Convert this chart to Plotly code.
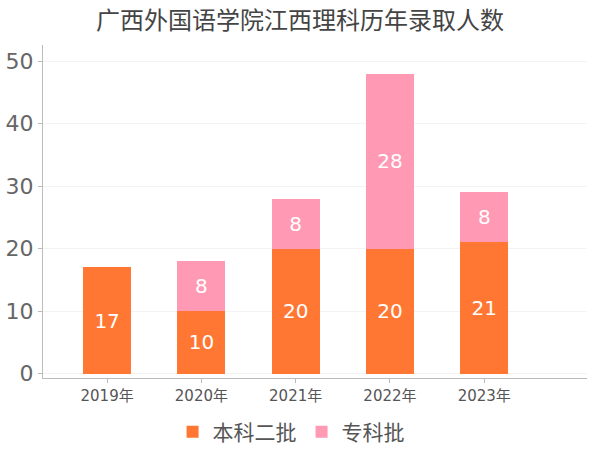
import plotly.graph_objs as go

years = ['2019年', '2020年', '2021年', '2022年', '2023年']
benke = [17, 10, 20, 20, 21]
zhuanke = [None, 8, 8, 28, 8]

font_family = 'DejaVu Sans, Noto Sans CJK SC, sans-serif'

fig = go.Figure()
fig.add_trace(go.Bar(
    x=years, y=benke, name='本科二批',
    marker=dict(color='#ff7733', line=dict(width=0)),
    text=benke, textposition='inside', insidetextanchor='middle',
    textfont=dict(color='white', size=20), width=0.51
))
fig.add_trace(go.Bar(
    x=years, y=zhuanke, name='专科批',
    marker=dict(color='#ff99b4', line=dict(width=0)),
    text=[v if v is not None else '' for v in zhuanke],
    textposition='inside', insidetextanchor='middle',
    textfont=dict(color='white', size=20), width=0.51
))

fig.update_layout(
    barmode='stack',
    width=600, height=450,
    paper_bgcolor='white', plot_bgcolor='white',
    font=dict(family=font_family, color='#666666'),
    title=dict(text='广西外国语学院江西理科历年录取人数', x=0.5, xanchor='center',
               y=0.955, yanchor='middle',
               font=dict(family='Noto Sans CJK SC', size=24, color='#444444')),
    margin=dict(l=43, r=13, t=45, b=72),
    xaxis=dict(
        range=[-0.68, 5.09], automargin=False,
        showline=True, linecolor='#bbbbbb', linewidth=1,
        ticks='outside', ticklen=4, tickcolor='#bbbbbb',
        tickfont=dict(size=15, color='#555555'),
        showgrid=False
    ),
    yaxis=dict(
        range=[-0.7, 52.6], automargin=False,
        tickvals=[0, 10, 20, 30, 40, 50],
        showline=True, linecolor='#bbbbbb', linewidth=1,
        ticks='outside', ticklen=4, tickcolor='#bbbbbb',
        tickfont=dict(size=22, color='#666666'),
        showgrid=True, gridcolor='#f3f3f3', zeroline=False
    ),
    legend=dict(orientation='h', x=0.456, xanchor='center',
                yref='container', y=0.04, yanchor='middle',
                traceorder='normal',
                font=dict(family='Noto Sans CJK SC', size=21, color='#555555'),
                itemwidth=30),
    showlegend=True,
    uniformtext=dict(minsize=10, mode='show')
)

# drop the browser's default body margin so the chart sits at the window origin
fig.write_html("out.html", config={'displayModeBar': False},
               post_script="document.body.style.margin='0';")
